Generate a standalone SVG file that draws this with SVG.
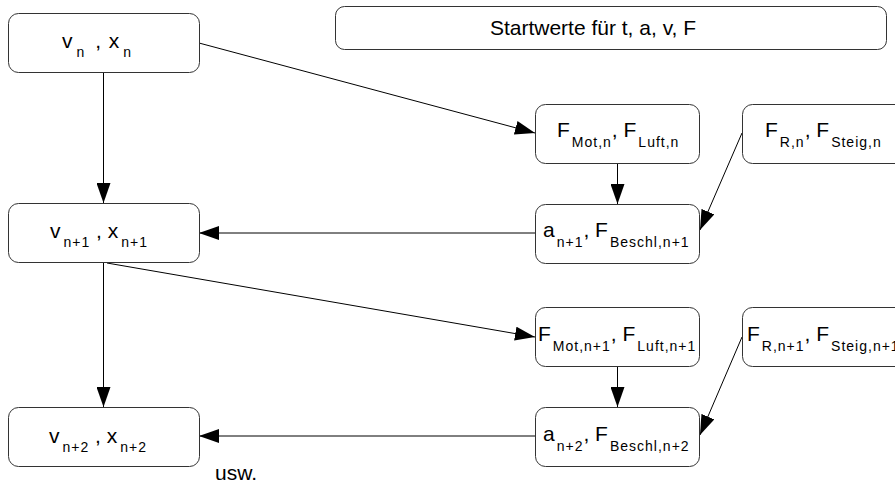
<svg xmlns="http://www.w3.org/2000/svg" width="895" height="486" viewBox="0 0 895 486">
<style>
.box{fill:#fff;stroke:#333;stroke-width:1}
.t{font-family:"Liberation Sans",Arial,sans-serif;font-size:21px;fill:#000}
.s{font-size:14px;letter-spacing:1px}
.c{stroke:#000;stroke-width:1;fill:none;marker-end:url(#ah)}
</style>
<defs>
<marker id="ah" markerUnits="userSpaceOnUse" markerWidth="20" markerHeight="14" refX="20" refY="7" orient="auto">
<path d="M0,0 L20,7 L0,14 z" fill="#000"/>
</marker>
</defs>
<rect width="895" height="486" fill="#fff"/>
<g id="connectors">
<path class="c" d="M103.5,73 L103.5,203"/>
<path class="c" d="M199,43 L535,133"/>
<path class="c" d="M535,233 L199,233"/>
<path class="c" d="M103.5,263 L103.5,407"/>
<path class="c" d="M107,263 L535,337"/>
<path class="c" d="M617.5,163 L617.5,204"/>
<path class="c" d="M617.5,367 L617.5,407"/>
<path class="c" d="M742,133 L700,230"/>
<path class="c" d="M742,337 L700,435"/>
<path class="c" d="M535,436 L199,436"/>
</g>
<g id="start">
<rect class="box" x="335.5" y="6.5" width="551" height="43" rx="9"/>
<text class="t" x="593" y="35" text-anchor="middle">Startwerte für t, a, v, F</text>
</g>
<g id="vn">
<rect class="box" x="8.5" y="13.5" width="191" height="59" rx="10"/>
<text class="t" x="62" y="48">v<tspan class="s" dx="4" dy="9">n</tspan><tspan dy="-9" dx="4"> , </tspan><tspan dx="2">x</tspan><tspan class="s" dx="4" dy="9">n</tspan></text>
</g>
<g id="vn1">
<rect class="box" x="8.5" y="203.5" width="191" height="59" rx="10"/>
<text class="t" x="50" y="238">v<tspan class="s" dx="3" dy="9">n+1</tspan><tspan dy="-9"> , x</tspan><tspan class="s" dx="3" dy="9">n+1</tspan></text>
</g>
<g id="vn2">
<rect class="box" x="8.5" y="407.5" width="191" height="59" rx="10"/>
<text class="t" x="49" y="443">v<tspan class="s" dx="3" dy="9">n+2</tspan><tspan dy="-9"> , x</tspan><tspan class="s" dx="3" dy="9">n+2</tspan></text>
</g>
<g id="fmotn">
<rect class="box" x="535.5" y="104.5" width="164" height="59" rx="10"/>
<text class="t" x="557" y="137">F<tspan class="s" dx="2" dy="10">Mot,n</tspan><tspan dy="-10">, F</tspan><tspan class="s" dx="2" dy="10">Luft,n</tspan></text>
</g>
<g id="frn">
<rect class="box" x="742.5" y="104.5" width="164" height="59" rx="10"/>
<text class="t" x="765" y="137">F<tspan class="s" dx="2" dy="10">R,n</tspan><tspan dy="-10">, F</tspan><tspan class="s" dx="2" dy="10">Steig,n</tspan></text>
</g>
<g id="an1">
<rect class="box" x="535.5" y="204.5" width="164" height="59" rx="10"/>
<text class="t" x="543" y="237">a<tspan class="s" dx="2" dy="10">n+1</tspan><tspan dy="-10">, F</tspan><tspan class="s" dx="2" dy="10">Beschl,n+1</tspan></text>
</g>
<g id="fmotn1">
<rect class="box" x="535.5" y="307.5" width="164" height="59" rx="10"/>
<text class="t" x="538" y="341">F<tspan class="s" dx="2" dy="10">Mot,n+1</tspan><tspan dy="-10">, F</tspan><tspan class="s" dx="2" dy="10">Luft,n+1</tspan></text>
</g>
<g id="frn1">
<rect class="box" x="742.5" y="307.5" width="164" height="59" rx="10"/>
<text class="t" x="747" y="341">F<tspan class="s" dx="2" dy="10">R,n+1</tspan><tspan dy="-10">, F</tspan><tspan class="s" dx="2" dy="10">Steig,n+1</tspan></text>
</g>
<g id="an2">
<rect class="box" x="535.5" y="407.5" width="164" height="59" rx="10"/>
<text class="t" x="543" y="441">a<tspan class="s" dx="2" dy="10">n+2</tspan><tspan dy="-10">, F</tspan><tspan class="s" dx="2" dy="10">Beschl,n+2</tspan></text>
</g>
<g id="usw">
<text class="t" x="215" y="480">usw.</text>
</g>
</svg>
